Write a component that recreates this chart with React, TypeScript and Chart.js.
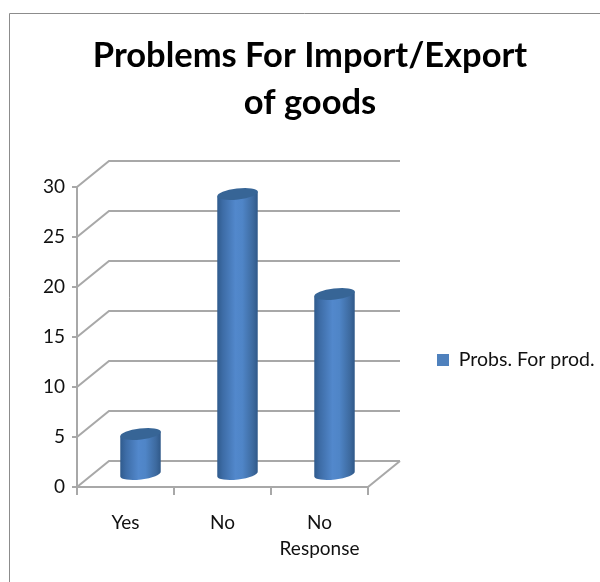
import React, { useEffect, useRef } from "react";
import { Chart, registerables } from "chart.js";

Chart.register(...registerables);

const categories: (string | string[])[] = ["Yes", "No", ["No", "Response"]];
const seriesName = "Probs. For prod.";
const seriesValues = [4, 28, 18];
const titleLines = ["Problems For Import/Export", "of goods"];

const FONT = "Lato";
const INK = "#111111";
const WALL = "#a8a8a8";
const DEPTH_X = 32;
const DEPTH_Y = 26;

// Back walls and floor of the box behind the columns, following the value scale.
function drawWalls(chart: any) {
  const { ctx, scales, chartArea } = chart;
  const y = scales.y;
  ctx.save();
  ctx.strokeStyle = WALL;
  ctx.lineWidth = 2;
  ctx.beginPath();
  for (const tick of y.ticks) {
    const py = y.getPixelForValue(tick.value);
    ctx.moveTo(chartArea.left, py);
    ctx.lineTo(chartArea.left + DEPTH_X, py - DEPTH_Y);
    ctx.lineTo(chartArea.right + DEPTH_X, py - DEPTH_Y);
  }
  const floor = y.getPixelForValue(0);
  ctx.moveTo(chartArea.right, floor);
  ctx.lineTo(chartArea.right + DEPTH_X, floor - DEPTH_Y);
  ctx.stroke();
  ctx.restore();
}

// One shaded cylinder standing halfway into the box.
function drawCylinder(ctx: CanvasRenderingContext2D, bar: any, floor: number) {
  const rx = bar.width / 2;
  const ry = 5.5;
  const tilt = -0.12;
  const cx = bar.x + 15;
  const topY = bar.y - DEPTH_Y / 2;
  const baseY = floor - DEPTH_Y / 2;
  const dx = rx * Math.cos(tilt);
  const dy = rx * Math.sin(tilt);

  const shade = ctx.createLinearGradient(cx - rx, 0, cx + rx, 0);
  shade.addColorStop(0, "#2f5a8c");
  shade.addColorStop(0.14, "#3d6ca6");
  shade.addColorStop(0.45, "#5288cc");
  shade.addColorStop(0.62, "#4f85c7");
  shade.addColorStop(0.88, "#3d6a9f");
  shade.addColorStop(1, "#2f5888");

  ctx.save();
  ctx.fillStyle = shade;
  ctx.beginPath();
  ctx.moveTo(cx - dx, topY - dy);
  ctx.lineTo(cx - dx, baseY - dy);
  ctx.ellipse(cx, baseY, rx, ry, tilt, Math.PI, 0, true);
  ctx.lineTo(cx + dx, topY + dy);
  ctx.closePath();
  ctx.fill();

  ctx.fillStyle = "#376596";
  ctx.beginPath();
  ctx.ellipse(cx, topY, rx, ry, tilt, 0, Math.PI * 2);
  ctx.fill();
  ctx.restore();
}

const boxScene = {
  id: "boxScene",
  afterLayout(chart: any) {
    // The legend and title sit at fixed spots beside and above the plot.
    const legend = chart.legend;
    legend.left = 427;
    legend.right = 600;
    legend.top = 348;
    legend.bottom = 372;
    const title = chart.titleBlock;
    title.left = 20;
    title.right = 600;
  },
  beforeDraw(chart: any) {
    const { ctx } = chart;
    ctx.save();
    ctx.fillStyle = "#ffffff";
    ctx.fillRect(0, 0, 600, 582);
    ctx.strokeStyle = "#8c8c8c";
    ctx.lineWidth = 1;
    ctx.beginPath();
    ctx.moveTo(9.5, 582);
    ctx.lineTo(9.5, 13.5);
    ctx.lineTo(600, 13.5);
    ctx.stroke();
    ctx.restore();
  },
  beforeDatasetsDraw(chart: any) {
    drawWalls(chart);
  },
  beforeDatasetDraw(chart: any, args: any) {
    const floor = chart.scales.y.getPixelForValue(0);
    for (const bar of args.meta.data) drawCylinder(chart.ctx, bar, floor);
    return false;
  },
};

export default function App() {
  const ref = useRef<HTMLCanvasElement>(null);

  useEffect(() => {
    const chart = new Chart(ref.current as HTMLCanvasElement, {
      type: "bar",
      data: {
        labels: categories as any,
        datasets: [
          {
            label: seriesName,
            data: seriesValues,
            backgroundColor: "#4f81bd",
            barPercentage: 0.42,
            categoryPercentage: 1,
          },
        ],
      },
      options: {
        responsive: false,
        animation: false,
        layout: { padding: { top: 0, left: 0, right: 231, bottom: 0 } },
        plugins: {
          tooltip: { enabled: false },
          title: {
            display: true,
            text: titleLines,
            color: "#000000",
            font: { family: FONT, size: 34.5, weight: "bold", lineHeight: "47px" },
            padding: { top: 32, bottom: 61 },
          },
          legend: {
            position: "right",
            maxWidth: 1,
            labels: {
              color: INK,
              font: { family: FONT, size: 19.5 },
              boxWidth: 12,
              boxHeight: 12,
              padding: 10,
            },
          },
        },
        scales: {
          x: {
            afterFit(scale: any) {
              scale.height = 95;
            },
            border: { color: WALL, width: 2 },
            grid: {
              drawOnChartArea: false,
              color: WALL,
              lineWidth: 2,
              tickLength: 8,
            },
            ticks: {
              color: INK,
              font: { family: FONT, size: 19, lineHeight: "26px" },
              padding: 15,
              maxRotation: 0,
              autoSkip: false,
            },
          },
          y: {
            min: 0,
            max: 30,
            afterFit(scale: any) {
              scale.width = 77;
            },
            border: { color: WALL, width: 2 },
            grid: {
              drawOnChartArea: false,
              color: WALL,
              lineWidth: 2,
              tickLength: 5,
            },
            ticks: {
              stepSize: 5,
              color: INK,
              font: { family: FONT, size: 19 },
              padding: 7,
            },
          },
        },
      } as any,
      plugins: [boxScene],
    });
    return () => chart.destroy();
  }, []);

  return (
    <canvas
      ref={ref}
      width={600}
      height={582}
      style={{ position: "absolute", left: 0, top: 0, display: "block" }}
    />
  );
}
